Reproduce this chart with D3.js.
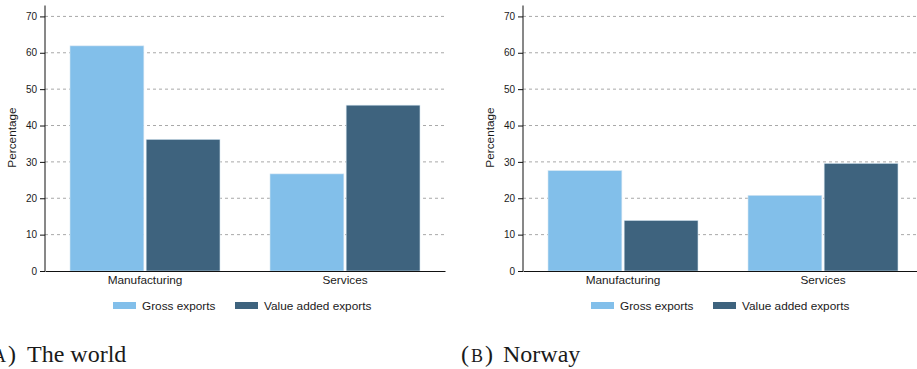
<!DOCTYPE html>
<html>
<head>
<meta charset="utf-8">
<script src="https://cdn.jsdelivr.net/npm/d3@7"></script>
<style>
  html, body { margin: 0; padding: 0; background: #fff; }
  svg { display: block; }
  text { font-family: "Liberation Sans", Arial, sans-serif; fill: #1a1a1a; }
  .caption { font-family: "Liberation Serif", "DejaVu Serif", serif; }
</style>
</head>
<body>
<svg id="chart" width="917" height="369"></svg>
<script>
// Export shares by sector (percent)
const categories = ["Manufacturing", "Services"];
const seriesNames = ["Gross exports", "Value added exports"];
const worldGross = [61.9, 26.7];
const worldValueAdded = [36.2, 45.6];
const norwayGross = [27.6, 20.8];
const norwayValueAdded = [13.9, 29.6];
const yTicks = [0, 10, 20, 30, 40, 50, 60, 70];
const panelLetters = ["A", "B"];
const panelTitles = ["The world", "Norway"];

const colors = ["#82bfea", "#3e637e"];

const svg = d3.select("#chart");

const y = d3.scaleLinear().domain([0, 73]).range([271, 5.5]);

function drawPanel(offset, gross, valueAdded, letter, title, cap) {
  const g = svg.append("g").attr("transform", `translate(${offset},0)`);
  const x0 = d3.scaleBand().domain(categories).range([45, 445])
    .paddingInner(0.25).paddingOuter(0.125);
  const x1 = d3.scaleBand().domain(seriesNames).range([0, x0.bandwidth()])
    .paddingInner(0.03);

  // dashed horizontal gridlines
  g.append("g").selectAll("line").data(yTicks.filter(d => d > 0)).join("line")
    .attr("x1", 45).attr("x2", 445)
    .attr("y1", d => y(d)).attr("y2", d => y(d))
    .attr("stroke", "#a8a8a8").attr("stroke-width", 1)
    .attr("stroke-dasharray", "3,3");

  const rows = categories.map((c, i) => ({
    category: c,
    values: [
      { series: seriesNames[0], value: gross[i], color: colors[0] },
      { series: seriesNames[1], value: valueAdded[i], color: colors[1] }
    ]
  }));

  g.append("g").selectAll("g").data(rows).join("g")
    .attr("transform", d => `translate(${x0(d.category)},0)`)
    .selectAll("rect").data(d => d.values).join("rect")
    .attr("x", d => x1(d.series))
    .attr("y", d => y(d.value))
    .attr("width", x1.bandwidth())
    .attr("height", d => y(0) - y(d.value))
    .attr("fill", d => d.color)
    .attr("stroke", "#d6e6f2").attr("stroke-width", 0.6);

  // y axis
  const yAxis = g.append("g").attr("transform", "translate(45,0)")
    .call(d3.axisLeft(y).tickValues(yTicks).tickSize(5).tickPadding(3));
  yAxis.select(".domain").attr("d", `M0,${y(0)}V${y(73)}`).attr("stroke", "#111");
  yAxis.selectAll(".tick line").attr("stroke", "#111");
  yAxis.selectAll(".tick text").style("font-size", "10px")
    .style("font-family", "Liberation Sans, Arial, sans-serif").attr("fill", "#1a1a1a");

  // x axis
  const xAxis = g.append("g").attr("transform", `translate(0,${y(0)})`)
    .call(d3.axisBottom(x0).tickSize(0).tickPadding(5));
  xAxis.select(".domain").attr("stroke", "#111");
  xAxis.selectAll(".tick text").style("font-size", "11.8px")
    .style("font-family", "Liberation Sans, Arial, sans-serif").attr("fill", "#1a1a1a");

  // axis title
  g.append("text")
    .attr("transform", `translate(16,137.5) rotate(-90)`)
    .attr("text-anchor", "middle")
    .style("font-size", "11.8px")
    .text("Percentage");

  // legend
  const legendItems = [
    { name: seriesNames[0], color: colors[0], x: 113, tx: 142 },
    { name: seriesNames[1], color: colors[1], x: 235, tx: 264 }
  ];
  const lg = g.append("g");
  lg.selectAll("rect").data(legendItems).join("rect")
    .attr("x", d => d.x).attr("y", 302).attr("width", 23).attr("height", 7)
    .attr("fill", d => d.color);
  lg.selectAll("text").data(legendItems).join("text")
    .attr("x", d => d.tx).attr("y", 309.8)
    .style("font-size", "11.8px")
    .text(d => d.name);

  // subfigure caption: small-caps letter in parentheses, then the title
  const lab = g.append("text").attr("class", "caption")
    .attr("x", cap.labelX).attr("y", 362)
    .style("font-size", "24px").style("letter-spacing", "2px");
  lab.append("tspan").text("(");
  lab.append("tspan").style("font-size", "18px").text(letter);
  lab.append("tspan").text(")");

  g.append("text").attr("class", "caption")
    .attr("x", cap.titleX).attr("y", 362)
    .style("font-size", "24px")
    .text(title);
}

drawPanel(0, worldGross, worldValueAdded, panelLetters[0], panelTitles[0],
  { labelX: -17, titleX: 27 });
drawPanel(478, norwayGross, norwayValueAdded, panelLetters[1], panelTitles[1],
  { labelX: -17, titleX: 25 });
</script>
</body>
</html>
